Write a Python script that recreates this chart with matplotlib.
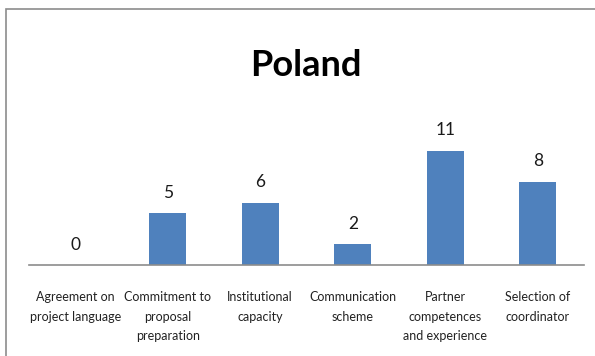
import matplotlib.pyplot as plt
from matplotlib.patches import Rectangle

categories = [
    "Agreement on\nproject language",
    "Commitment to\nproposal\npreparation",
    "Institutional\ncapacity",
    "Communication\nscheme",
    "Partner\ncompetences\nand experience",
    "Selection of\ncoordinator",
]
counts = [0, 5, 6, 2, 11, 8]

plt.rcParams["font.family"] = ["Lato", "DejaVu Sans"]

fig = plt.figure(figsize=(5.95, 3.56), dpi=100)

# outer chart frame, running off the right and bottom edges
fig.patches.append(Rectangle((6 / 595, -0.1), 1.2, 1 - 9 / 356 + 0.1,
                             transform=fig.transFigure, fill=False,
                             edgecolor="#8c8c8c", linewidth=1.2))

ax = fig.add_axes([29 / 595, 1 - 265 / 356, 555 / 595, 145.6 / 356])
x = range(len(categories))
bars = ax.bar(x, counts, width=0.4, color="#4f81bd")
ax.set_xlim(-0.5, len(categories) - 0.5)
ax.set_ylim(0, 14)

for xi, v in zip(x, counts):
    ax.annotate(str(v), (xi, v), xytext=(0, 9), textcoords="offset points",
                ha="center", va="bottom", fontsize=12.5, color="#1a1a1a")

for side in ["top", "right", "left"]:
    ax.spines[side].set_visible(False)
ax.spines["bottom"].set_color("#8c8c8c")
ax.spines["bottom"].set_linewidth(1.2)
ax.set_yticks([])
ax.set_xticks(list(x))
ax.set_xticklabels(categories, fontsize=9, color="#222222", linespacing=1.75)
ax.tick_params(axis="x", length=0, pad=19)

fig.text(306 / 595, 1 - 65 / 356, "Poland", ha="center", va="center",
         fontsize=26, fontweight="bold", color="#000000")

fig.savefig("out.png", dpi=100)
